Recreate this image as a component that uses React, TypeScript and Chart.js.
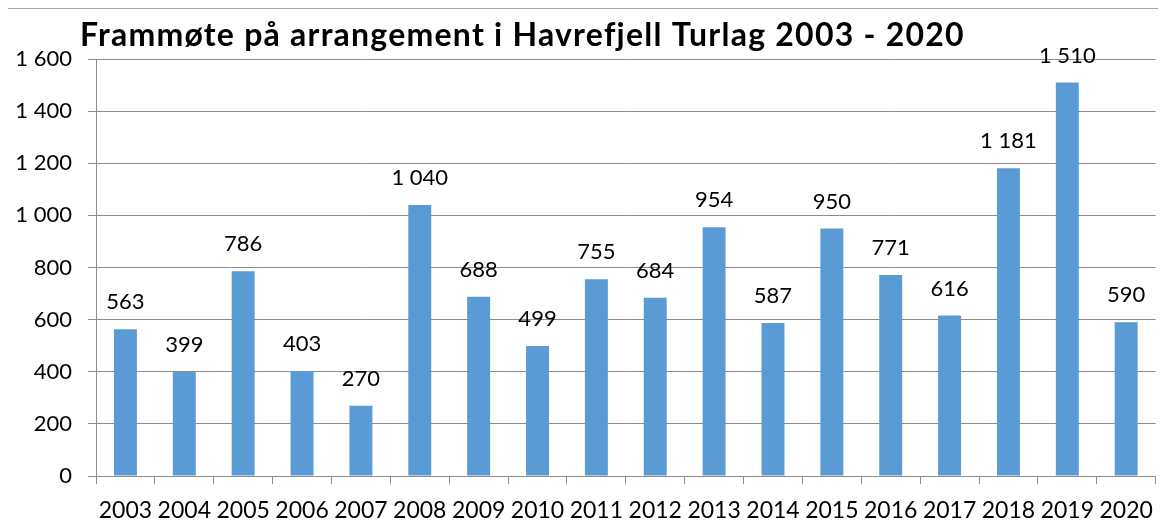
import React, { useEffect, useRef } from "react";
import { Chart, registerables } from "chart.js";

Chart.register(...registerables);

const TITLE = "Frammøte på arrangement i Havrefjell Turlag 2003 - 2020";
const years = ["2003","2004","2005","2006","2007","2008","2009","2010","2011","2012","2013","2014","2015","2016","2017","2018","2019","2020"];
const attendance = [563, 399, 786, 403, 270, 1040, 688, 499, 755, 684, 954, 587, 950, 771, 616, 1181, 1510, 590];

const FONT = "Lato, 'Open Sans', sans-serif";
const fmt = (v: number) => {
  const s = String(Math.round(v));
  return s.replace(/\B(?=(\d{3})+(?!\d))/g, " ");
};

const labelsPlugin = {
  id: "valueLabels",
  afterDatasetsDraw(chart: any) {
    const ctx = chart.ctx;
    const meta = chart.getDatasetMeta(0);
    ctx.save();
    ctx.font = `22px ${FONT}`;
    ctx.fillStyle = "#000";
    ctx.textAlign = "center";
    ctx.textBaseline = "middle";
    meta.data.forEach((bar: any, i: number) => {
      ctx.fillText(fmt(attendance[i]), bar.x, bar.y - 27);
    });
    ctx.restore();
  },
};

const TITLE_WIDTH = 883;
const titlePlugin = {
  id: "customTitle",
  afterDraw(chart: any) {
    const ctx = chart.ctx;
    ctx.save();
    ctx.font = `bold 32px ${FONT}`;
    ctx.fillStyle = "#000";
    ctx.textAlign = "left";
    ctx.textBaseline = "alphabetic";
    const w = ctx.measureText(TITLE).width;
    const extra = (TITLE_WIDTH - w) / (TITLE.length - 1);
    if ("letterSpacing" in ctx) {
      (ctx as any).letterSpacing = `${Math.max(0, extra).toFixed(2)}px`;
    }
    ctx.fillText(TITLE, 72, 37);
    ctx.restore();
  },
};

export default function App() {
  const ref = useRef<HTMLCanvasElement>(null);
  useEffect(() => {
    document.documentElement.style.overflow = "hidden";
    document.body.style.overflow = "hidden";
    const chart = new Chart(ref.current!, {
      type: "bar",
      data: {
        labels: years,
        datasets: [
          {
            data: attendance,
            backgroundColor: "#5B9BD5",
            borderWidth: 0,
            barPercentage: 0.39,
            categoryPercentage: 1,
          },
        ],
      },
      options: {
        animation: false,
        responsive: false,
        layout: { padding: { left: 0, right: 5, top: 50, bottom: 0 } },
        plugins: {
          legend: { display: false },
          tooltip: { enabled: false },
          title: { display: false },
        },
        scales: {
          x: {
            offset: true,
            grid: {
              offset: true,
              drawOnChartArea: false,
              drawTicks: true,
              tickLength: 8,
              color: "#8c8c8c",
            },
            border: { color: "#8c8c8c", width: 1 },
            ticks: {
              color: "#000",
              font: { family: FONT, size: 23 },
              padding: 13,
              maxRotation: 0,
              autoSkip: false,
            },
            afterFit: (s: any) => {
              s.height = 53;
            },
          },
          y: {
            min: 0,
            max: 1600,
            grid: { color: "#8c8c8c", tickLength: 8 },
            border: { color: "#8c8c8c", width: 1 },
            ticks: {
              stepSize: 200,
              color: "#000",
              font: { family: FONT, size: 22 },
              padding: 16,
              callback: (v: any) => fmt(Number(v)),
            },
            afterFit: (s: any) => {
              s.width = 88;
            },
          },
        },
      },
      plugins: [labelsPlugin, titlePlugin],
    });
    return () => chart.destroy();
  }, []);
  return (
    <div
      style={{
        marginLeft: -1,
        width: 1159,
        height: 521,
        borderTop: "1px solid #a6a6a6",
        borderLeft: "1px solid #a6a6a6",
        boxSizing: "border-box",
      }}
    >
      <canvas ref={ref} width={1158} height={520} style={{ display: "block" }} />
    </div>
  );
}
